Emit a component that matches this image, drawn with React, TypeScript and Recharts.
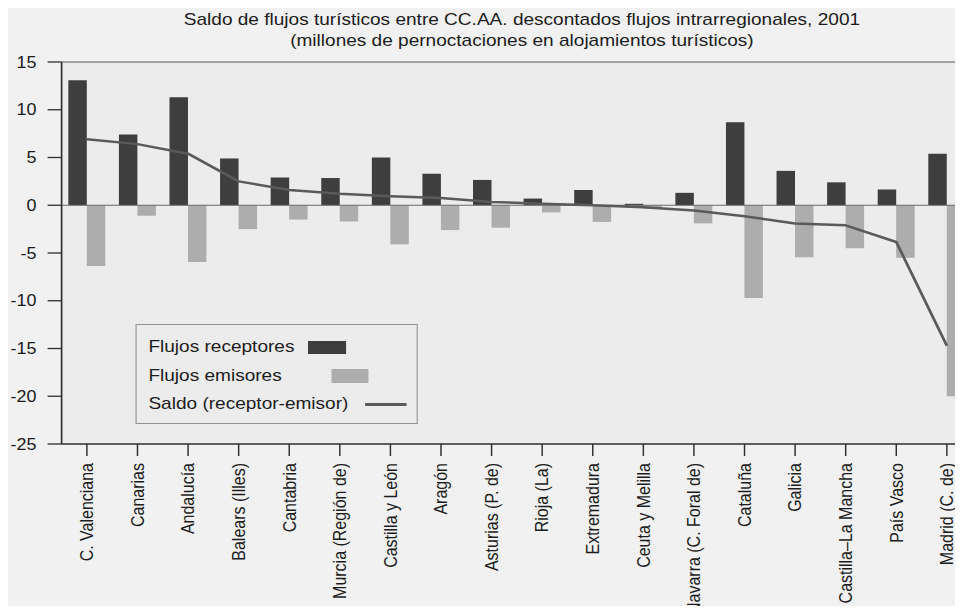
import { Bar, CartesianGrid, ComposedChart, Legend, Line, ReferenceLine, XAxis, YAxis } from "recharts";

const regions = [
  "C. Valenciana",
  "Canarias",
  "Andalucía",
  "Balears (Illes)",
  "Cantabria",
  "Murcia (Región de)",
  "Castilla y León",
  "Aragón",
  "Asturias (P. de)",
  "Rioja (La)",
  "Extremadura",
  "Ceuta y Melilla",
  "Navarra (C. Foral de)",
  "Cataluña",
  "Galicia",
  "Castilla–La Mancha",
  "País Vasco",
  "Madrid (C. de)"
];

// millones de pernoctaciones
const receptores = [13.1, 7.4, 11.3, 4.9, 2.9, 2.85, 5.0, 3.3, 2.65, 0.7, 1.6, 0.15, 1.3, 8.7, 3.6, 2.4, 1.65, 5.4];
const emisores = [-6.35, -1.1, -5.95, -2.5, -1.5, -1.7, -4.1, -2.6, -2.35, -0.75, -1.75, -0.35, -1.9, -9.7, -5.45, -4.5, -5.5, -20.0];
const saldo = [6.9, 6.4, 5.4, 2.5, 1.6, 1.2, 0.95, 0.75, 0.35, 0.15, 0.0, -0.2, -0.55, -1.15, -1.9, -2.1, -3.85, -14.7];

const yTicks = [15, 10, 5, 0, -5, -10, -15, -20, -25];

const titleLines = [
  "Saldo de flujos turísticos entre CC.AA. descontados flujos intrarregionales, 2001",
  "(millones de pernoctaciones en alojamientos turísticos)"
];

const legendItems = [
  { label: "Flujos receptores", kind: "bar", color: "#3e3e3e" },
  { label: "Flujos emisores", kind: "bar", color: "#adadad" },
  { label: "Saldo (receptor-emisor)", kind: "line", color: "#5a5a5a" }
] as const;

const data = regions.map((region, i) => ({
  region,
  receptores: receptores[i],
  emisores: emisores[i],
  saldo: saldo[i]
}));

const FONT = '"Liberation Sans", Arial, Helvetica, sans-serif';
// the scanned original is a little wider than tall
const STRETCH = 1.12;

function RegionTick({ x, y, payload }: { x?: number; y?: number; payload?: { value: string } }) {
  return (
    <text
      x={x}
      y={y}
      transform={`rotate(-90 ${x} ${y})`}
      textAnchor="end"
      dy="0.35em"
      fontSize={16}
      fontFamily={FONT}
      fill="#1c1c1c"
    >
      {payload?.value}
    </text>
  );
}

// swatch placement inside the legend box, one per row
const swatchSpots = [
  { left: 153, top: 16, width: 34, height: 13 },
  { left: 174, top: 44, width: 33, height: 14 },
  { left: 204, top: 78, width: 37, height: 2.5 }
];
const rowCenters = [22, 51, 79];

function FlowLegend() {
  return (
    <div
      style={{
        position: "relative",
        width: 252,
        height: 100,
        boxSizing: "border-box",
        border: "1px solid #939393",
        background: "#ececec",
        fontFamily: FONT,
        fontSize: 17,
        color: "#1c1c1c"
      }}
    >
      {legendItems.map((item, i) => (
        <div key={item.label}>
          <span style={{ position: "absolute", left: 11, top: rowCenters[i] - 10, lineHeight: "19px", whiteSpace: "nowrap" }}>
            {item.label}
          </span>
          <span
            style={{
              position: "absolute",
              ...swatchSpots[i],
              background: item.color
            }}
          />
        </div>
      ))}
    </div>
  );
}

export default function App() {
  return (
    <div
      style={{
        position: "relative",
        margin: -8,
        width: 963,
        height: 614,
        overflow: "hidden",
        background: "#f1f1f1"
      }}
    >
      <div
        style={{
          position: "absolute",
          left: 0,
          top: 0,
          width: 870,
          height: 614,
          transform: `scaleX(${STRETCH})`,
          transformOrigin: "0 0"
        }}
      >
        <div
          style={{
            position: "absolute",
            left: 0,
            top: 9,
            width: 932,
            textAlign: "center",
            fontFamily: FONT,
            fontSize: 17,
            lineHeight: "21px",
            color: "#1c1c1c",
            zIndex: 1
          }}
        >
          {titleLines.map((line) => (
            <div key={line}>{line}</div>
          ))}
        </div>

        <ComposedChart
          width={870}
          height={614}
          data={data}
          margin={{ top: 62, right: 2, bottom: 0, left: 0 }}
          barGap={0}
          barSize={16.5}
        >
          <CartesianGrid horizontal={false} vertical={false} fill="#ececec" stroke="none" />
          <ReferenceLine y={15} stroke="#8a8a8a" strokeWidth={1.5} />
          <XAxis
            dataKey="region"
            interval={0}
            height={170}
            tickSize={12}
            tickMargin={7}
            axisLine={{ stroke: "#2e2e2e", strokeWidth: 1.5 }}
            tickLine={{ stroke: "#2e2e2e", strokeWidth: 1.3 }}
            tick={<RegionTick />}
          />
          <YAxis
            width={55}
            domain={[-25, 15]}
            ticks={yTicks}
            interval={0}
            tickSize={12.5}
            tickMargin={10}
            axisLine={{ stroke: "#2e2e2e", strokeWidth: 1.5 }}
            tickLine={{ stroke: "#2e2e2e", strokeWidth: 1.3 }}
            tick={{ fontSize: 16, fill: "#1c1c1c", fontFamily: FONT }}
          />
          <ReferenceLine y={0} stroke="#6a6a6a" strokeWidth={1} />
          <Bar dataKey="receptores" name="Flujos receptores" fill="#3e3e3e" isAnimationActive={false} />
          <Bar dataKey="emisores" name="Flujos emisores" fill="#adadad" isAnimationActive={false} />
          <Line
            type="linear"
            dataKey="saldo"
            name="Saldo (receptor-emisor)"
            stroke="#5a5a5a"
            strokeWidth={2.5}
            strokeLinejoin="round"
            dot={false}
            activeDot={false}
            isAnimationActive={false}
          />
          <Legend
            layout="horizontal"
            align="center"
            verticalAlign="middle"
            content={<FlowLegend />}
            wrapperStyle={{ left: 120.5, top: 324, width: 252, height: 100 }}
          />
        </ComposedChart>
      </div>
    </div>
  );
}
